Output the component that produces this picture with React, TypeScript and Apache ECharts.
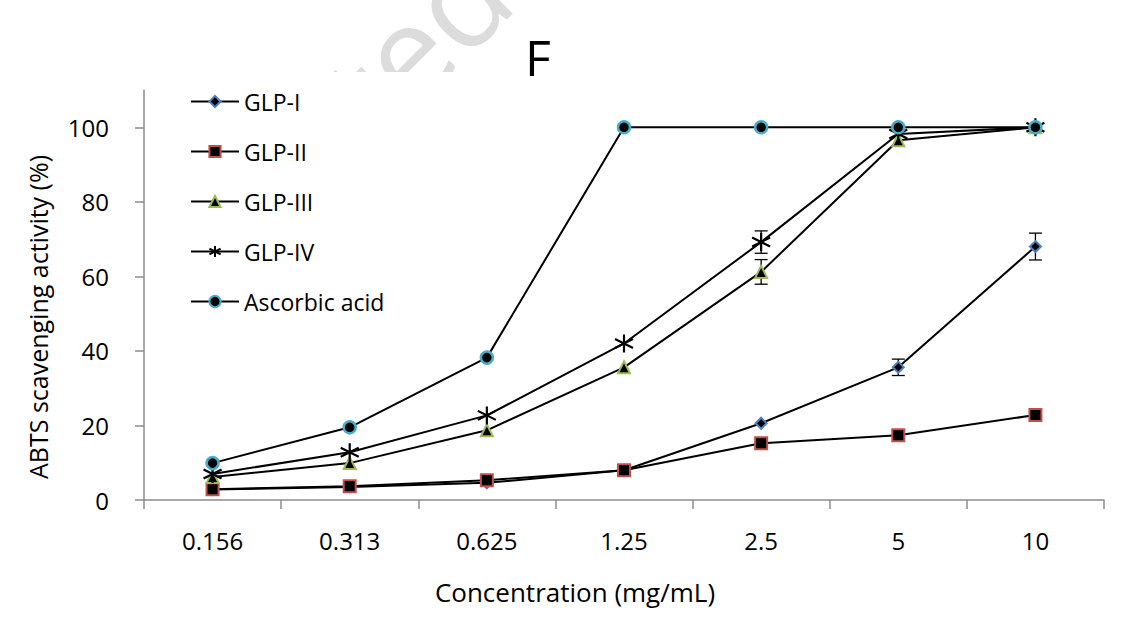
import React, { useEffect, useRef } from "react";
import * as echarts from "echarts";

const categories = ["0.156", "0.313", "0.625", "1.25", "2.5", "5", "10"];
const glp1 = [2.8, 3.5, 4.6, 8.0, 20.6, 35.6, 68.0];
const glp2 = [2.9, 3.7, 5.3, 8.0, 15.2, 17.4, 22.8];
const glp3 = [6.2, 9.9, 18.7, 35.6, 61.2, 96.5, 100];
const glp4 = [7.0, 12.8, 22.7, 42.0, 69.2, 98.2, 100];
const ascorbic = [9.9, 19.5, 38.2, 100, 100, 100, 100];
const glp1Err = [0, 0, 0, 0, 0, 2.2, 3.6];
const glp3Err = [0, 0, 0, 0, 3.3, 0, 0];
const glp4Err = [0, 0, 0, 0, 3.0, 0, 0];
const yTicks = [0, 20, 40, 60, 80, 100];

const FONT = "Open Sans";
const asterisk = "path://M5,0 L5,10 M0.7,2.5 L9.3,7.5 M0.7,7.5 L9.3,2.5";

export default function App() {
  const ref = useRef<HTMLDivElement>(null);
  useEffect(() => {
    document.body.style.margin = "0";
    const chart = echarts.init(ref.current!, null, { renderer: "svg" });
    const lineStyle = { color: "#000", width: 2 };
    const mk = (name: string, data: number[], symbol: string, size: number, border: string, bw: number) => ({
      name,
      type: "line",
      data,
      symbol,
      symbolSize: size,
      showSymbol: true,
      lineStyle,
      itemStyle: { color: "#000", borderColor: border, borderWidth: bw },
      z: 3,
    });
    const errData: number[][] = [];
    const addErr = (vals: number[], errs: number[]) =>
      vals.forEach((v, i) => {
        if (errs[i] > 0) errData.push([i, v, errs[i]]);
      });
    addErr(glp1, glp1Err);
    addErr(glp3, glp3Err);
    addErr(glp4, glp4Err);

    chart.setOption({
      animation: false,
      backgroundColor: "#fff",
      title: {
        text: "F",
        left: 520,
        top: 27,
        textStyle: { fontSize: 50, fontWeight: "normal", fontFamily: FONT, color: "#000" },
      },
      legend: {
        orient: "vertical",
        left: 185,
        top: 85,
        itemWidth: 48,
        itemHeight: 14,
        itemGap: 27,
        textStyle: { fontSize: 23, fontFamily: FONT, color: "#000" },
        data: ["GLP-I", "GLP-II", "GLP-III", "GLP-IV", "Ascorbic acid"],
      },
      grid: { left: 144, right: 25, top: 90, bottom: 136, containLabel: false },
      xAxis: {
        type: "category",
        data: categories,
        boundaryGap: true,
        axisLine: { lineStyle: { color: "#8c8c8c", width: 1.5 } },
        axisTick: { show: true, length: 9, lineStyle: { color: "#8c8c8c", width: 1.5 } },
        axisLabel: { margin: 28, fontSize: 24, fontFamily: FONT, color: "#000" },
        splitLine: { show: false },
      },
      yAxis: {
        type: "value",
        min: 0,
        max: 110,
        interval: 20,
        axisLine: { show: true, lineStyle: { color: "#8c8c8c", width: 1.5 } },
        axisTick: { show: true, length: 9, customValues: yTicks, lineStyle: { color: "#8c8c8c", width: 1.5 } },
        axisLabel: { margin: 35, fontSize: 24, fontFamily: FONT, color: "#000", customValues: yTicks },
        splitLine: { show: false },
      },
      graphic: [
        {
          type: "text",
          z: -2,
          x: 485,
          y: -30,
          rotation: Math.PI / 4,
          style: {
            text: "Accepted",
            fill: "#dcdcdc",
            font: `130px ${FONT}`,
            textAlign: "right",
            textVerticalAlign: "middle",
          },
        },
        { type: "rect", z: -1, shape: { x: 0, y: 72, width: 1129, height: 564 }, style: { fill: "#fff" } },
        {
          type: "text",
          x: 38,
          y: 317,
          rotation: Math.PI / 2,
          style: {
            text: "ABTS scavenging activity (%)",
            fill: "#000",
            font: `25px ${FONT}`,
            textAlign: "center",
            textVerticalAlign: "middle",
          },
        },
        {
          type: "text",
          x: 575,
          y: 592,
          style: {
            text: "Concentration (mg/mL)",
            fill: "#000",
            font: `26px ${FONT}`,
            textAlign: "center",
            textVerticalAlign: "middle",
          },
        },
      ],
      series: [
        {
          type: "custom",
          name: "err",
          z: 2,
          data: errData,
          renderItem: (params: any, api: any) => {
            const i = api.value(0);
            const v = api.value(1);
            const e = api.value(2);
            const top = api.coord([i, v + e]);
            const bot = api.coord([i, v - e]);
            const w = 6.5;
            const st = { stroke: "#000", lineWidth: 1.3 };
            return {
              type: "group",
              children: [
                { type: "line", shape: { x1: top[0], y1: top[1], x2: bot[0], y2: bot[1] }, style: st },
                { type: "line", shape: { x1: top[0] - w, y1: top[1], x2: top[0] + w, y2: top[1] }, style: st },
                { type: "line", shape: { x1: bot[0] - w, y1: bot[1], x2: bot[0] + w, y2: bot[1] }, style: st },
              ],
            };
          },
        },
        mk("GLP-I", glp1, "diamond", 11, "#4f81bd", 2),
        mk("GLP-II", glp2, "rect", 12, "#c0504d", 2),
        mk("GLP-III", glp3, "triangle", 12, "#9bbb59", 2),
        mk("GLP-IV", glp4, asterisk, 18, "#000", 2.2),
        mk("Ascorbic acid", ascorbic, "circle", 12, "#4bacc6", 2.5),
      ],
    });
    return () => chart.dispose();
  }, []);
  return <div ref={ref} style={{ width: 1129, height: 636 }} />;
}
